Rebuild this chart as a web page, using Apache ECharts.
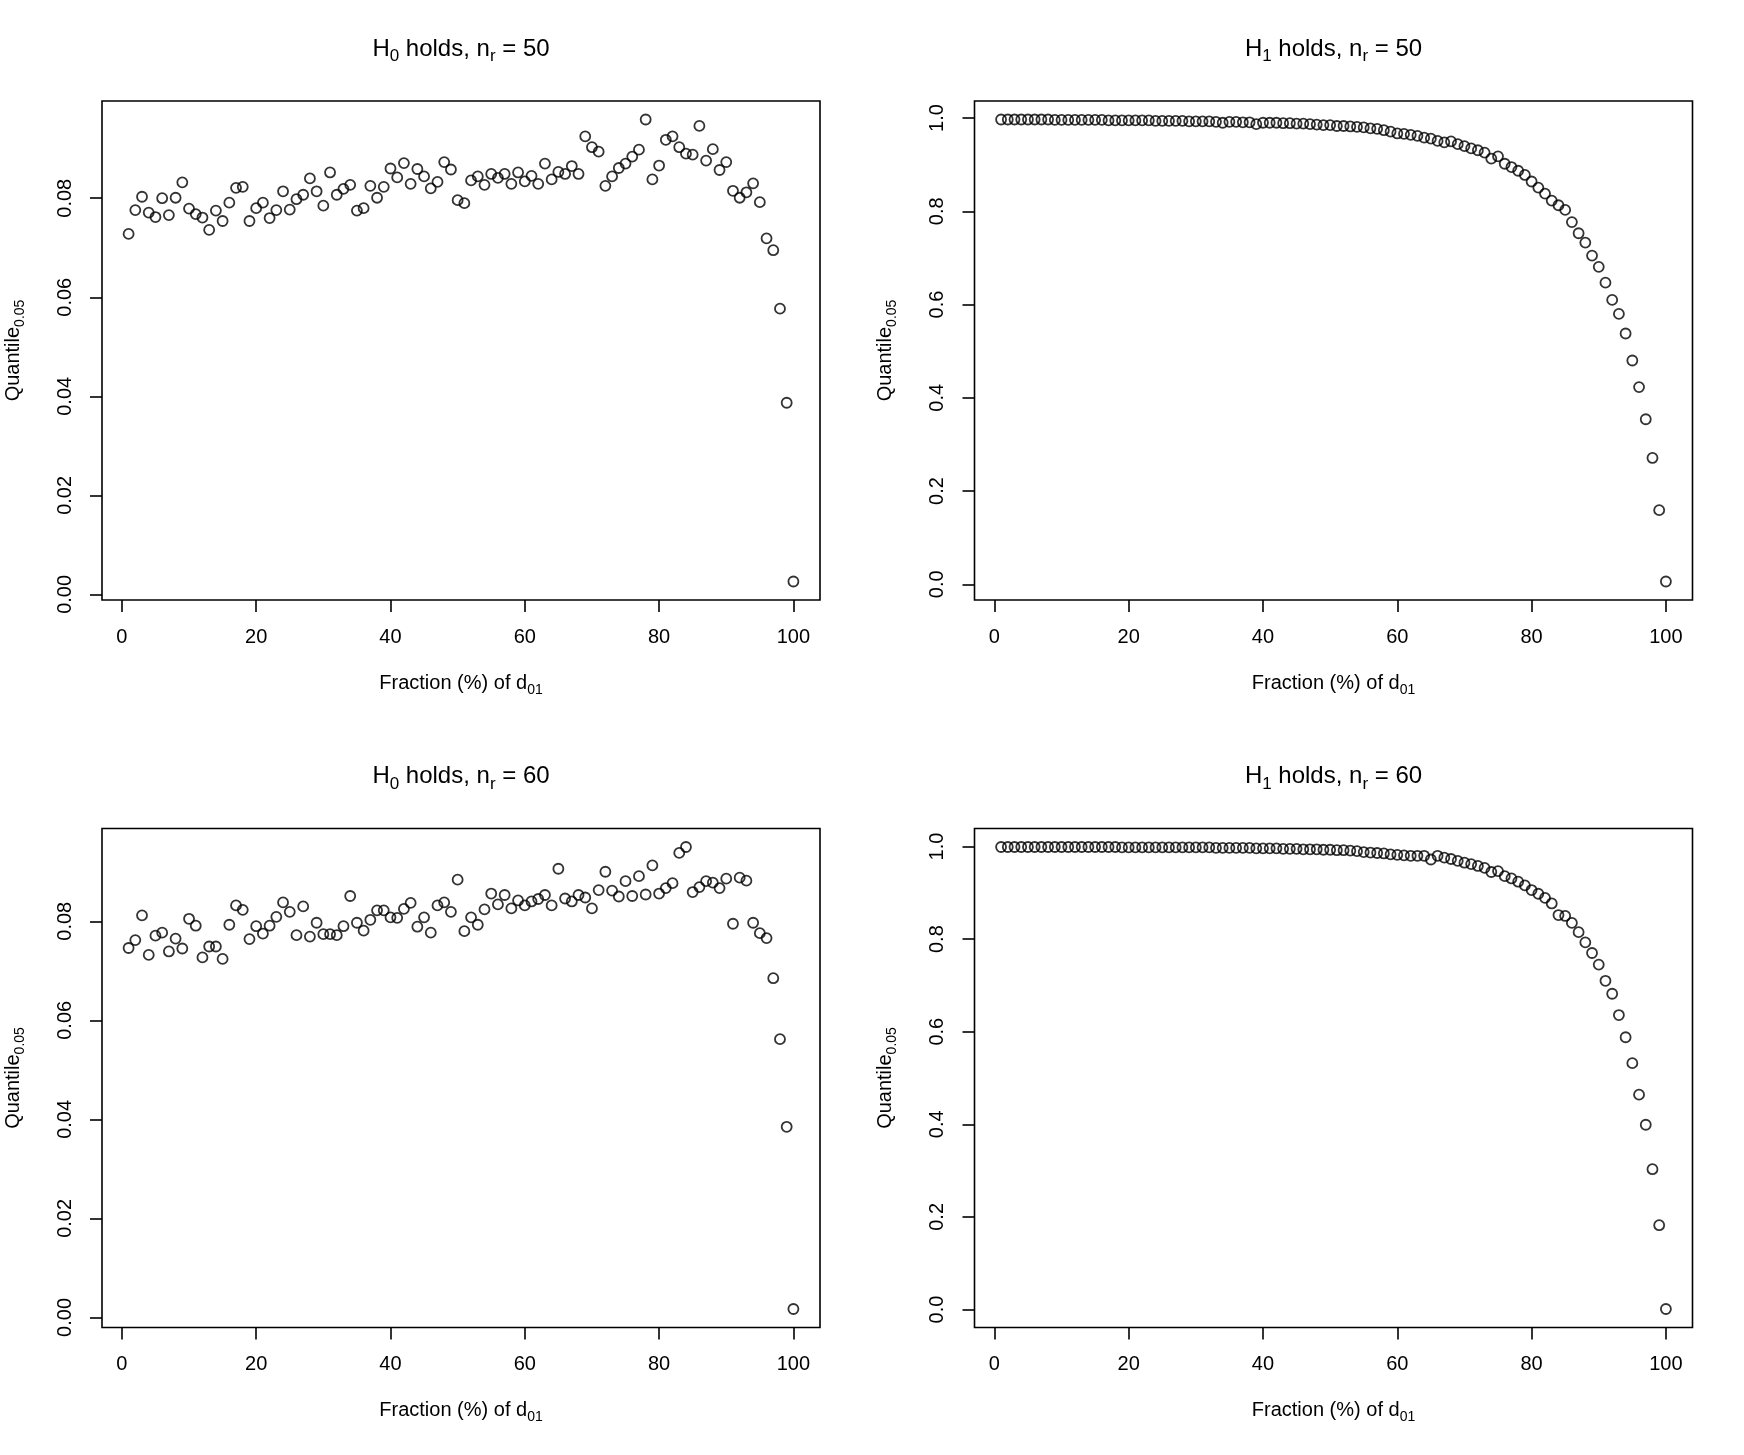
<!DOCTYPE html>
<html>
<head>
<meta charset="utf-8">
<script src="https://cdn.jsdelivr.net/npm/echarts@6/dist/echarts.min.js"></script>
<style>
  html, body { margin: 0; padding: 0; background: #fff; }
  #chart { width: 1744px; height: 1455px; }
</style>
</head>
<body>
<div id="chart"></div>
<script>
// x: fraction (%) of d01
const fraction = [
  1, 2, 3, 4, 5, 6, 7, 8, 9, 10, 11, 12, 13, 14, 15, 16, 17, 18, 19, 20,
  21, 22, 23, 24, 25, 26, 27, 28, 29, 30, 31, 32, 33, 34, 35, 36, 37, 38, 39, 40,
  41, 42, 43, 44, 45, 46, 47, 48, 49, 50, 51, 52, 53, 54, 55, 56, 57, 58, 59, 60,
  61, 62, 63, 64, 65, 66, 67, 68, 69, 70, 71, 72, 73, 74, 75, 76, 77, 78, 79, 80,
  81, 82, 83, 84, 85, 86, 87, 88, 89, 90, 91, 92, 93, 94, 95, 96, 97, 98, 99, 100
];

// H0 holds, nr = 50
const h0n50 = [
  0.0728, 0.0776, 0.0803, 0.0771, 0.0762, 0.0800, 0.0766, 0.0801, 0.0832, 0.0779,
  0.0768, 0.0761, 0.0736, 0.0775, 0.0754, 0.0791, 0.0821, 0.0823, 0.0754, 0.0780,
  0.0791, 0.0760, 0.0776, 0.0814, 0.0777, 0.0798, 0.0807, 0.0840, 0.0814, 0.0785,
  0.0852, 0.0807, 0.0819, 0.0827, 0.0775, 0.0780, 0.0825, 0.0801, 0.0823, 0.0860,
  0.0842, 0.0871, 0.0829, 0.0859, 0.0844, 0.0820, 0.0833, 0.0873, 0.0858, 0.0796,
  0.0790, 0.0836, 0.0844, 0.0827, 0.0849, 0.0841, 0.0849, 0.0829, 0.0852, 0.0834,
  0.0845, 0.0829, 0.0870, 0.0838, 0.0853, 0.0849, 0.0865, 0.0849, 0.0925, 0.0903,
  0.0894, 0.0825, 0.0844, 0.0861, 0.0870, 0.0884, 0.0898, 0.0959, 0.0838, 0.0866,
  0.0918, 0.0925, 0.0903, 0.0890, 0.0888, 0.0946, 0.0876, 0.0899, 0.0857, 0.0873,
  0.0815, 0.0801, 0.0812, 0.0830, 0.0792, 0.0719, 0.0695, 0.0577, 0.0387, 0.0026
];

// H1 holds, nr = 50
const h1n50 = [
  0.997, 0.997, 0.997, 0.997, 0.997, 0.997, 0.997, 0.997, 0.996, 0.996,
  0.996, 0.996, 0.996, 0.996, 0.996, 0.996, 0.995, 0.995, 0.995, 0.995,
  0.995, 0.995, 0.995, 0.994, 0.994, 0.994, 0.994, 0.994, 0.993, 0.993,
  0.993, 0.993, 0.992, 0.990, 0.992, 0.992, 0.991, 0.991, 0.987, 0.990,
  0.990, 0.990, 0.989, 0.989, 0.988, 0.988, 0.987, 0.986, 0.985, 0.985,
  0.983, 0.983, 0.982, 0.981, 0.980, 0.978, 0.977, 0.974, 0.971, 0.967,
  0.966, 0.964, 0.962, 0.958, 0.956, 0.951, 0.948, 0.950, 0.944, 0.940,
  0.935, 0.931, 0.926, 0.913, 0.918, 0.902, 0.895, 0.887, 0.878, 0.864,
  0.851, 0.838, 0.823, 0.813, 0.803, 0.777, 0.753, 0.733, 0.705, 0.681,
  0.647, 0.610, 0.580, 0.538, 0.480, 0.423, 0.354, 0.271, 0.159, 0.006
];

// H0 holds, nr = 60
const h0n60 = [
  0.0746, 0.0762, 0.0812, 0.0732, 0.0771, 0.0777, 0.0739, 0.0765, 0.0745, 0.0805,
  0.0791, 0.0727, 0.0749, 0.0749, 0.0724, 0.0793, 0.0832, 0.0823, 0.0764, 0.0790,
  0.0775, 0.0791, 0.0809, 0.0838, 0.0819, 0.0772, 0.0830, 0.0769, 0.0797, 0.0774,
  0.0774, 0.0772, 0.0790, 0.0851, 0.0797, 0.0781, 0.0803, 0.0822, 0.0822, 0.0808,
  0.0807, 0.0825, 0.0837, 0.0789, 0.0808, 0.0777, 0.0832, 0.0838, 0.0819, 0.0884,
  0.0780, 0.0808, 0.0793, 0.0824, 0.0856, 0.0834, 0.0853, 0.0826, 0.0842, 0.0832,
  0.0840, 0.0845, 0.0853, 0.0832, 0.0906, 0.0846, 0.0840, 0.0853, 0.0848, 0.0826,
  0.0863, 0.0900, 0.0862, 0.0850, 0.0881, 0.0851, 0.0891, 0.0854, 0.0913, 0.0856,
  0.0867, 0.0877, 0.0938, 0.0950, 0.0859, 0.0869, 0.0881, 0.0878, 0.0867, 0.0886,
  0.0795, 0.0888, 0.0882, 0.0797, 0.0776, 0.0766, 0.0685, 0.0562, 0.0385, 0.0017
];

// H1 holds, nr = 60
const h1n60 = [
  0.999, 0.999, 0.999, 0.999, 0.999, 0.999, 0.999, 0.999, 0.999, 0.999,
  0.999, 0.999, 0.999, 0.999, 0.999, 0.999, 0.999, 0.999, 0.998, 0.998,
  0.998, 0.998, 0.998, 0.998, 0.998, 0.998, 0.998, 0.998, 0.998, 0.998,
  0.998, 0.998, 0.997, 0.997, 0.997, 0.997, 0.997, 0.997, 0.996, 0.996,
  0.996, 0.996, 0.995, 0.995, 0.995, 0.994, 0.994, 0.994, 0.993, 0.993,
  0.992, 0.992, 0.991, 0.990, 0.988, 0.987, 0.986, 0.985, 0.983, 0.982,
  0.981, 0.980, 0.980, 0.980, 0.972, 0.980, 0.976, 0.973, 0.969, 0.965,
  0.962, 0.958, 0.954, 0.945, 0.947, 0.936, 0.931, 0.924, 0.916, 0.906,
  0.898, 0.889, 0.877, 0.852, 0.850, 0.835, 0.815, 0.793, 0.770, 0.745,
  0.710, 0.682, 0.636, 0.588, 0.532, 0.464, 0.399, 0.303, 0.182, 0.001
];

const xTicks = [0, 20, 40, 60, 80, 100];
const yTicksH0 = [0, 0.02, 0.04, 0.06, 0.08];
const yTicksH1 = [0, 0.2, 0.4, 0.6, 0.8, 1.0];

const FONT = "'Liberation Sans', Arial, Helvetica, sans-serif";
const BOX_W = 718;
const BOX_H = 499;

const panels = [
  { title: 'H{s|0} holds, n{s|r} = 50', values: h0n50, ticks: yTicksH0, digits: 2, left: 102, top: 101 },
  { title: 'H{s|1} holds, n{s|r} = 50', values: h1n50, ticks: yTicksH1, digits: 1, left: 974.5, top: 101 },
  { title: 'H{s|0} holds, n{s|r} = 60', values: h0n60, ticks: yTicksH0, digits: 2, left: 102, top: 828.5 },
  { title: 'H{s|1} holds, n{s|r} = 60', values: h1n60, ticks: yTicksH1, digits: 1, left: 974.5, top: 828.5 }
];

// R style axis range: data range extended by 4% on each side
function rRange(arr) {
  const lo = Math.min(...arr), hi = Math.max(...arr);
  const pad = (hi - lo) * 0.04;
  return [lo - pad, hi + pad];
}

const subStyle = (size) => ({ fontSize: size, lineHeight: size, verticalAlign: 'bottom', fontFamily: FONT, color: '#000' });
const tickLine = { color: '#000', width: 1.6 };

const xr = rRange(fraction);
const option = {
  animation: false,
  backgroundColor: '#fff',
  title: [], grid: [], xAxis: [], yAxis: [], series: []
};

panels.forEach((p, i) => {
  const yr = rRange(p.values);
  option.title.push({
    text: p.title,
    left: p.left + BOX_W / 2,
    top: p.top - 68,
    textAlign: 'center',
    padding: 0,
    textStyle: {
      fontSize: 24, fontWeight: 'normal', color: '#000', fontFamily: FONT, lineHeight: 32,
      rich: { s: subStyle(17) }
    }
  });
  option.grid.push({
    left: p.left, top: p.top, width: BOX_W, height: BOX_H,
    show: true, borderColor: '#000', borderWidth: 1.6, backgroundColor: 'transparent',
    containLabel: false, outerBoundsMode: 'none'
  });
  option.xAxis.push({
    type: 'value', gridIndex: i, min: xr[0], max: xr[1], position: 'bottom',
    axisLine: { show: false, onZero: false },
    splitLine: { show: false },
    axisTick: { show: true, inside: false, length: 12, customValues: xTicks, lineStyle: tickLine },
    axisLabel: { customValues: xTicks, margin: 27, fontSize: 20, color: '#000', fontFamily: FONT },
    name: 'Fraction (%) of d{s|01}',
    nameLocation: 'middle',
    nameGap: 69,
    nameTextStyle: { fontSize: 20, lineHeight: 28, color: '#000', fontFamily: FONT, rich: { s: subStyle(14) } }
  });
  option.yAxis.push({
    type: 'value', gridIndex: i, min: yr[0], max: yr[1], position: 'left',
    axisLine: { show: false, onZero: false },
    splitLine: { show: false },
    axisTick: { show: true, inside: false, length: 12, customValues: p.ticks, lineStyle: tickLine },
    axisLabel: {
      customValues: p.ticks, rotate: 90, margin: 27, fontSize: 20, color: '#000', fontFamily: FONT,
      formatter: (v) => Number(v).toFixed(p.digits)
    },
    name: 'Quantile{s|0.05}',
    nameLocation: 'middle',
    nameRotate: 90,
    nameGap: 75,
    nameTextStyle: { fontSize: 20, lineHeight: 28, color: '#000', fontFamily: FONT, rich: { s: subStyle(14) } }
  });
  option.series.push({
    type: 'scatter',
    xAxisIndex: i, yAxisIndex: i,
    symbol: 'circle',
    symbolSize: 10,
    itemStyle: { color: 'rgba(0,0,0,0)', borderColor: '#000', borderWidth: 1.8 },
    data: fraction.map((x, k) => [x, p.values[k]])
  });
});

const chart = echarts.init(document.getElementById('chart'), null, { renderer: 'canvas' });
chart.setOption(option);
</script>
</body>
</html>
